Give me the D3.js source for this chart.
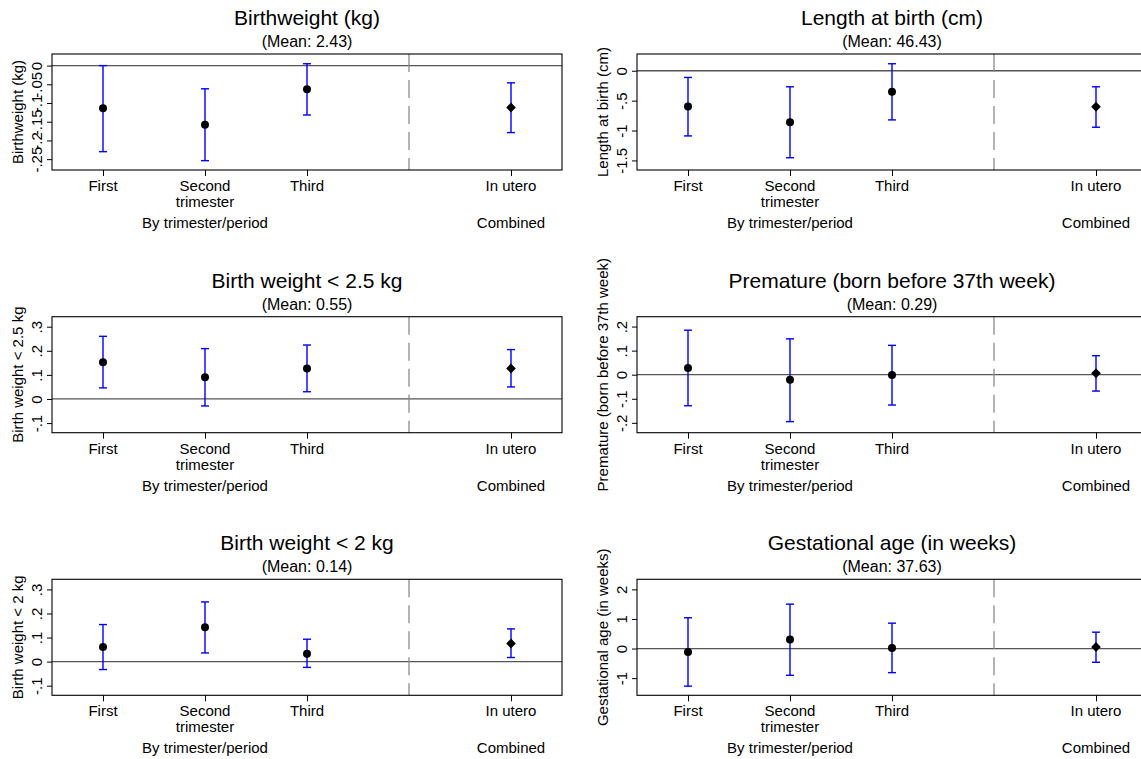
<!DOCTYPE html>
<html>
<head>
<meta charset="utf-8">
<script src="https://cdn.jsdelivr.net/npm/d3@7/dist/d3.min.js"></script>
<style>
  html, body { margin: 0; padding: 0; background: #fff; }
  svg { display: block; }
  text { font-family: "Liberation Sans", Arial, Helvetica, sans-serif; fill: #000; }
</style>
</head>
<body>
<svg id="chart" width="1141" height="759"></svg>
<script>
// Exposure periods on the x axis (position 4 is the divider between groups)
const periodLabels = [["First"], ["Second", "trimester"], ["Third"], ["In utero"]];
const periodPos = [1, 2, 3, 5];
const groupLabels = ["By trimester/period", "Combined"];
const groupPos = [2, 5];
const dividerPos = 4;

// Outcome panels
const panelTitles = [
  "Birthweight (kg)", "Length at birth (cm)",
  "Birth weight < 2.5 kg", "Premature (born before 37th week)",
  "Birth weight < 2 kg", "Gestational age (in weeks)"
];
const panelMeans = ["2.43", "46.43", "0.55", "0.29", "0.14", "37.63"];

// Point estimates and 95% confidence bounds (First, Second, Third, In utero)
const bwEst = [-0.114, -0.158, -0.063, -0.112];
const bwLo  = [-0.230, -0.254, -0.132, -0.179];
const bwHi  = [ 0.000, -0.062,  0.005, -0.046];

const lenEst = [-0.599, -0.861, -0.352, -0.604];
const lenLo  = [-1.090, -1.455, -0.822, -0.945];
const lenHi  = [-0.112, -0.268,  0.117, -0.268];

const lbw25Est = [0.152,  0.090, 0.127, 0.127];
const lbw25Lo  = [0.046, -0.029, 0.030, 0.050];
const lbw25Hi  = [0.260,  0.209, 0.224, 0.205];

const premEst = [ 0.028, -0.021, -0.001,  0.006];
const premLo  = [-0.129, -0.195, -0.126, -0.068];
const premHi  = [ 0.185,  0.149,  0.122,  0.079];

const lbw2Est = [ 0.061, 0.143,  0.033, 0.075];
const lbw2Lo  = [-0.033, 0.036, -0.024, 0.017];
const lbw2Hi  = [ 0.154, 0.248,  0.093, 0.136];

const gestEst = [-0.114,  0.305,  0.020,  0.054];
const gestLo  = [-1.270, -0.905, -0.814, -0.464];
const gestHi  = [ 1.040,  1.500,  0.858,  0.553];

const panelEst = [bwEst, lenEst, lbw25Est, premEst, lbw2Est, gestEst];
const panelLo  = [bwLo, lenLo, lbw25Lo, premLo, lbw2Lo, gestLo];
const panelHi  = [bwHi, lenHi, lbw25Hi, premHi, lbw2Hi, gestHi];

// Y axis ranges, tick values and tick labels
const yRanges = [[-0.279, 0.031], [-1.66, 0.28], [-0.14, 0.3415], [-0.241, 0.241], [-0.14, 0.342], [-1.58, 2.34]];
const yTicks = [
  [-0.25, -0.2, -0.15, -0.1, -0.05, 0],
  [-1.5, -1, -0.5, 0],
  [-0.1, 0, 0.1, 0.2, 0.3],
  [-0.2, -0.1, 0, 0.1, 0.2],
  [-0.1, 0, 0.1, 0.2, 0.3],
  [-1, 0, 1, 2]
];
const yTickLabels = [
  ["-.25", "-.2", "-.15", "-.1", "-.05", "0"],
  ["-1.5", "-1", "-.5", "0"],
  ["-.1", "0", ".1", ".2", ".3"],
  ["-.2", "-.1", "0", ".1", ".2"],
  ["-.1", "0", ".1", ".2", ".3"],
  ["-1", "0", "1", "2"]
];

const svg = d3.select("#chart");
const W = 510, H = 116;
const colLeft = [52, 637];
const rowTop = [54, 316.7, 579.3];
const ciColor = "#0000ff";

panelTitles.forEach((title, i) => {
  const col = i % 2, row = Math.floor(i / 2);
  const left = colLeft[col], top = rowTop[row];
  const g = svg.append("g").attr("transform", `translate(${left},${top})`);

  const x = d3.scaleLinear().domain([0.5, 5.5]).range([0, W]);
  const y = d3.scaleLinear().domain(yRanges[i]).range([H, 0]);

  // Titles
  g.append("text").attr("x", W / 2).attr("y", -29).attr("text-anchor", "middle")
    .style("font-size", "21px").text(title);
  g.append("text").attr("x", W / 2).attr("y", -7).attr("text-anchor", "middle")
    .style("font-size", "16px").text(`(Mean: ${panelMeans[i]})`);

  // Reference line at zero
  g.append("line").attr("x1", 0).attr("x2", W).attr("y1", y(0)).attr("y2", y(0))
    .attr("stroke", "#555").attr("stroke-width", 1.3);

  // Divider between period-specific and combined estimates
  g.append("line").attr("x1", x(dividerPos)).attr("x2", x(dividerPos)).attr("y1", 0).attr("y2", H)
    .attr("stroke", "#8c8c8c").attr("stroke-width", 1.3).attr("stroke-dasharray", "18,8");

  // Plot frame
  g.append("rect").attr("x", 0).attr("y", 0).attr("width", W).attr("height", H)
    .attr("fill", "none").attr("stroke", "#000").attr("stroke-width", 1.1);

  // X axis
  const xAxis = g.append("g").attr("transform", `translate(0,${H})`)
    .call(d3.axisBottom(x).tickValues(periodPos).tickSize(6).tickSizeOuter(0).tickFormat(""));
  xAxis.select(".domain").remove();
  xAxis.selectAll(".tick line").attr("stroke", "#000");
  periodPos.forEach((p, k) => {
    const t = g.append("text").attr("x", x(p)).attr("y", H + 21).attr("text-anchor", "middle")
      .style("font-size", "15px");
    periodLabels[k].forEach((ln, j) => {
      t.append("tspan").attr("x", x(p)).attr("dy", j === 0 ? 0 : 16).text(ln);
    });
  });
  groupPos.forEach((p, k) => {
    g.append("text").attr("x", x(p)).attr("y", H + 58).attr("text-anchor", "middle")
      .style("font-size", "15px").text(groupLabels[k]);
  });

  // Y axis with vertical tick labels
  const yAxis = g.append("g")
    .call(d3.axisLeft(y).tickValues(yTicks[i]).tickSize(5).tickSizeOuter(0)
      .tickFormat((d, k) => yTickLabels[i][k]));
  yAxis.select(".domain").remove();
  yAxis.selectAll(".tick line").attr("stroke", "#000");
  yAxis.selectAll(".tick text")
    .attr("transform", "rotate(-90)").attr("x", 0).attr("y", -10).attr("dy", 0)
    .attr("text-anchor", "middle").style("font-size", "15px")
    .style("font-family", '"Liberation Sans", Arial, Helvetica, sans-serif').attr("fill", "#000");
  g.append("text")
    .attr("transform", `translate(-29,${H / 2}) rotate(-90)`)
    .attr("text-anchor", "middle").style("font-size", "15px").text(title);

  // Confidence intervals
  const est = panelEst[i], lo = panelLo[i], hi = panelHi[i];
  const ci = g.append("g").attr("stroke", ciColor).attr("stroke-width", 1.4).attr("fill", "none");
  periodPos.forEach((p, k) => {
    ci.append("line").attr("x1", x(p)).attr("x2", x(p)).attr("y1", y(lo[k])).attr("y2", y(hi[k]));
    ci.append("line").attr("x1", x(p) - 4).attr("x2", x(p) + 4).attr("y1", y(lo[k])).attr("y2", y(lo[k]));
    ci.append("line").attr("x1", x(p) - 4).attr("x2", x(p) + 4).attr("y1", y(hi[k])).attr("y2", y(hi[k]));
  });

  // Point estimates: circles by trimester, diamond for the combined estimate
  periodPos.forEach((p, k) => {
    const cx = x(p), cy = y(est[k]);
    if (p === dividerPos + 1) {
      g.append("path")
        .attr("d", `M${cx},${cy - 5}L${cx + 4.8},${cy}L${cx},${cy + 5}L${cx - 4.8},${cy}Z`)
        .attr("fill", "#000");
    } else {
      g.append("circle").attr("cx", cx).attr("cy", cy).attr("r", 4).attr("fill", "#000");
    }
  });
});
</script>
</body>
</html>
